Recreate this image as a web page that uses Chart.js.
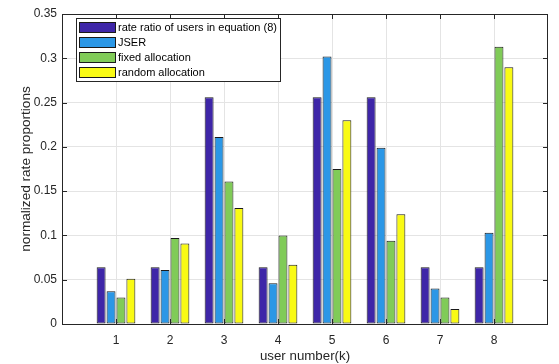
<!DOCTYPE html>
<html>
<head>
<meta charset="utf-8">
<script src="https://cdn.jsdelivr.net/npm/chart.js@4.4.1/dist/chart.umd.min.js"></script>
<style>
  html, body { margin: 0; padding: 0; background: #fff; }
  #wrap { width: 559px; height: 364px; }
</style>
</head>
<body>
<div id="wrap"><canvas id="barChart" width="559" height="364"></canvas></div>
<script>
// user index k
const users = [1, 2, 3, 4, 5, 6, 7, 8];
const seriesNames = ['rate ratio of users in equation (8)', 'JSER', 'fixed allocation', 'random allocation'];
const ratioEq8 = [0.064, 0.064, 0.256, 0.064, 0.256, 0.256, 0.064, 0.064];
const jser = [0.037, 0.061, 0.211, 0.046, 0.302, 0.199, 0.040, 0.103];
const fixedAlloc = [0.030, 0.097, 0.161, 0.100, 0.175, 0.094, 0.030, 0.313];
const randomAlloc = [0.051, 0.091, 0.131, 0.067, 0.230, 0.124, 0.017, 0.290];
const yTicks = [0, 0.05, 0.1, 0.15, 0.2, 0.25, 0.3, 0.35];

const barColors = ['#3E26A8', '#2B97E6', '#80CB58', '#F9FA14'];
const edge = '#1a1a1a';
const axisColor = '#262626';
const FONT = 'Liberation Sans, Arial, Helvetica, sans-serif';

const allSeries = [ratioEq8, jser, fixedAlloc, randomAlloc];
const datasets = allSeries.map((vals, i) => ({
  label: seriesNames[i],
  data: users.map((u, j) => ({ x: u, y: vals[j] })),
  backgroundColor: barColors[i],
  borderColor: edge,
  borderWidth: 1,
  borderSkipped: false,
  categoryPercentage: 0.735,
  barPercentage: 0.9
}));

// matlab-like box with inward ticks
const frame = {
  id: 'frame',
  afterDraw(chart) {
    const { ctx, chartArea: a, scales } = chart;
    ctx.save();
    ctx.strokeStyle = axisColor;
    ctx.lineWidth = 1;
    ctx.strokeRect(Math.round(a.left) + 0.5, Math.round(a.top) + 0.5,
      Math.round(a.right - a.left) - 1, Math.round(a.bottom - a.top));
    ctx.beginPath();
    yTicks.forEach(v => {
      const y = Math.round(scales.y.getPixelForValue(v)) + 0.5;
      ctx.moveTo(a.left, y); ctx.lineTo(a.left + 5, y);
      ctx.moveTo(a.right, y); ctx.lineTo(a.right - 5, y);
    });
    users.forEach(u => {
      const x = Math.round(scales.x.getPixelForValue(u)) + 0.5;
      ctx.moveTo(x, a.bottom); ctx.lineTo(x, a.bottom - 5);
      ctx.moveTo(x, a.top); ctx.lineTo(x, a.top + 5);
    });
    ctx.stroke();

    // legend box
    const lx = 76, ly = 18, lw = 204, lh = 63;
    ctx.fillStyle = '#fff';
    ctx.fillRect(lx, ly, lw, lh);
    ctx.strokeRect(lx + 0.5, ly + 0.5, lw, lh);
    ctx.font = '11px ' + FONT;
    ctx.textBaseline = 'middle';
    seriesNames.forEach((name, i) => {
      const cy = 27.5 + i * 15;
      ctx.fillStyle = barColors[i];
      ctx.fillRect(79, cy - 5.5, 37, 11);
      ctx.strokeStyle = edge;
      ctx.strokeRect(79.5, cy - 5, 36, 10);
      ctx.fillStyle = '#000';
      ctx.fillText(name, 118, cy + 0.5);
    });
    ctx.restore();
  }
};

new Chart('barChart', {
  type: 'bar',
  data: { datasets: datasets },
  plugins: [frame],
  options: {
    responsive: false,
    animation: false,
    layout: { padding: { top: 14, right: 11, left: 0, bottom: 0 } },
    plugins: { legend: { display: false }, tooltip: { enabled: false } },
    scales: {
      x: {
        type: 'linear',
        offset: false,
        min: 0,
        max: 9,
        afterFit(s) { s.height = 40; },
        afterBuildTicks(s) { s.ticks = users.map(v => ({ value: v })); },
        grid: { color: '#e4e4e4', drawTicks: false, offset: false },
        border: { display: false },
        ticks: { color: axisColor, font: { family: FONT, size: 12 }, padding: 9 },
        title: { display: true, text: 'user number(k)', color: axisColor, font: { family: FONT, size: 13.3 }, padding: { top: 0, bottom: 0 } }
      },
      y: {
        min: 0,
        max: 0.35,
        afterFit(s) { s.width = 62; },
        afterBuildTicks(s) { s.ticks = yTicks.map(v => ({ value: v })); },
        grid: { color: '#e4e4e4', drawTicks: false },
        border: { display: false },
        ticks: { color: axisColor, font: { family: FONT, size: 12 }, padding: 5, callback: v => String(v) },
        title: { display: true, text: 'normalized rate proportions', color: axisColor, font: { family: FONT, size: 13.6 }, padding: { top: 18, bottom: 0 } }
      }
    }
  }
});
</script>
</body>
</html>
